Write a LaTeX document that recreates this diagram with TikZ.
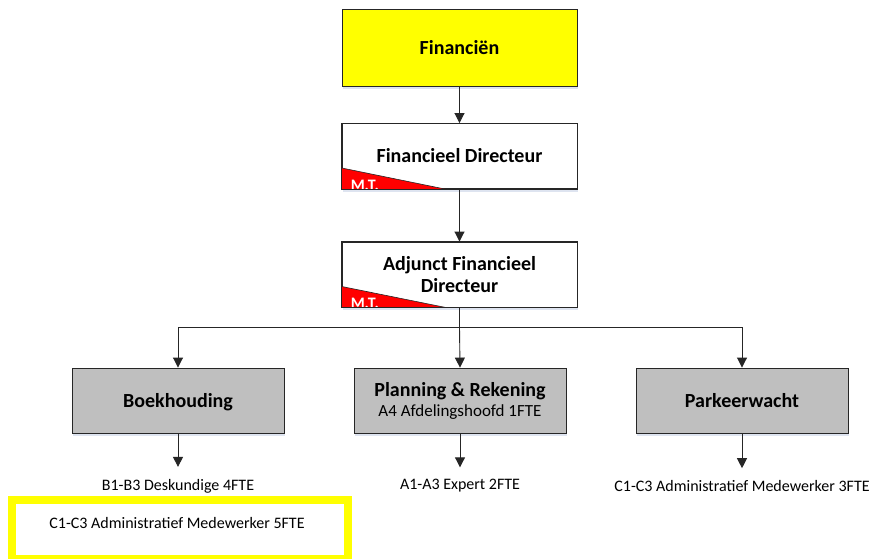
\documentclass[tikz,border=0pt]{standalone}
\usepackage{fontspec}
\setmainfont{Carlito}
\usetikzlibrary{arrows.meta,shadows}
\definecolor{boxgray}{HTML}{BFBFBF}
\definecolor{lineg}{HTML}{262626}
\definecolor{shadowc}{HTML}{C9D3E6}
\definecolor{yel}{HTML}{FFFF00}
\tikzset{
  unit/.style={draw=lineg, line width=0.9pt, minimum width=235pt, minimum height=65pt, inner sep=0pt, align=center,
    font=\fontsize{20}{22}\selectfont\bfseries,
    drop shadow={shadow xshift=1pt, shadow yshift=-3pt, fill=shadowc, opacity=0.6}},
  dept/.style={unit, fill=boxgray, minimum width=212pt},
  arr/.style={draw=lineg, line width=0.9pt, -{Triangle[width=10pt,length=10pt]}},
  staff/.style={inner sep=0pt, font=\fontsize{16}{18}\selectfont},
  mtlabel/.style={anchor=base west, inner sep=0pt, text=white, font=\fontsize{16}{16}\selectfont\bfseries},
}
\begin{document}
\begin{tikzpicture}[x=1pt,y=-1pt]
\useasboundingbox[fill=white] (0,0) rectangle (878,558);

\node[unit, fill=yel, minimum height=77pt] (fin) at (459.5,47.5) {Financiën};
\node[unit, fill=white] (fd) at (459.5,156) {Financieel Directeur};
\node[unit, fill=white] (afd) at (459.5,274.5) {Adjunct Financieel\\Directeur};

% M.T. corner markers
\begin{scope}
\clip (fd.south west) rectangle (fd.north east);
\fill[red] (fd.south west) -- ++(0,-21) -- ([xshift=103pt]fd.south west) -- cycle;
\draw[lineg, line width=0.6pt] ([yshift=21pt]fd.south west) -- ([xshift=103pt]fd.south west);
\node[mtlabel] (fdmt) at ([xshift=9pt,yshift=-1.5pt]fd.south west) {M.T.};
\end{scope}
\draw[lineg, line width=0.9pt] (fd.south west) rectangle (fd.north east);
\begin{scope}
\clip (afd.south west) rectangle (afd.north east);
\fill[red] (afd.south west) -- ++(0,-21) -- ([xshift=104pt]afd.south west) -- cycle;
\draw[lineg, line width=0.6pt] ([yshift=21pt]afd.south west) -- ([xshift=104pt]afd.south west);
\node[mtlabel] (afdmt) at ([xshift=9pt,yshift=-1.5pt]afd.south west) {M.T.};
\end{scope}
\draw[lineg, line width=0.9pt] (afd.south west) rectangle (afd.north east);

\node[dept, text depth=0pt] (boek) at (178,400.5) {Boekhouding};
\node[dept] (plan) at (460,400.5) {Planning \& Rekening\\[-2pt]{\mdseries\fontsize{17}{20}\selectfont A4 Afdelingshoofd 1FTE}};
\node[dept] (park) at (742,400.5) {Parkeerwacht};

\node[staff] (sb) at (178,486) {B1-B3 Deskundige 4FTE};
\node[staff] (sp) at (460,486) {A1-A3 Expert 2FTE};
\node[staff] (sk) at (742,486) {C1-C3 Administratief Medewerker 3FTE};

\draw[yel, line width=8pt] (12,500) rectangle (348,559);
\node[staff] (extra) at (177,523) {C1-C3 Administratief Medewerker 5FTE};

\draw[arr] (fin) -- (fd);
\draw[arr] (fd) -- (afd);
\coordinate (j) at (afd.south |- 0,327);
\draw[lineg, line width=0.9pt] (afd.south) -- (j);
\draw[arr] (j) -| (boek.north);
\draw[arr] (j) -- (plan.north);
\draw[arr] (j) -| (park.north);
\draw[arr, shorten >=12pt] (boek) -- (sb);
\draw[arr, shorten >=12pt] (plan) -- (sp);
\draw[arr, shorten >=12pt] (park) -- (sk);
\end{tikzpicture}
\end{document}
